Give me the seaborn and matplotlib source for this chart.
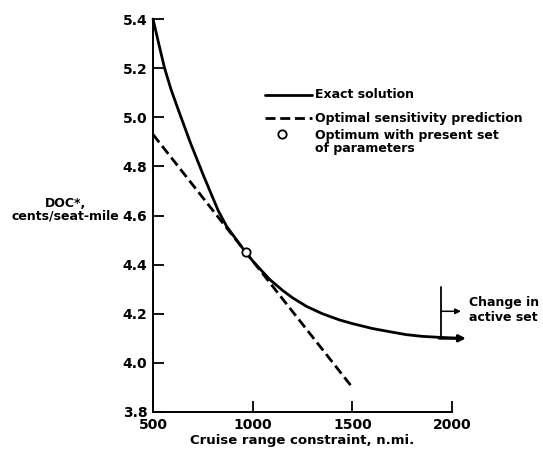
import matplotlib
matplotlib.use("Agg")
import matplotlib.pyplot as plt
import seaborn as sns
import pandas as pd

# values
range_exact = [500, 530, 558, 590, 627, 688, 752, 827, 870, 965, 1000, 1085, 1150, 1200,
               1270, 1350, 1435, 1500, 1600, 1700, 1770, 1850, 1935, 2040]
doc_exact = [5.40, 5.295, 5.20, 5.114, 5.03, 4.895, 4.765, 4.62, 4.555, 4.45, 4.415, 4.34,
             4.295, 4.265, 4.23, 4.20, 4.175, 4.16, 4.14, 4.125, 4.115, 4.108, 4.104, 4.10]

range_pred = [500, 1500]
doc_pred = [4.93, 3.90]

range_opt = [965]
doc_opt = [4.45]

arrow_tip_x = 2070
change_x = 1945
change_y_top = 4.31
change_y_arrow = 4.21
change_arrow_tip = 2045

x_ticks = [500, 1000, 1500, 2000]
y_ticks = [3.8, 4.0, 4.2, 4.4, 4.6, 4.8, 5.0, 5.2, 5.4]

legend_labels = ["Exact solution", "Optimal sensitivity prediction",
                 "Optimum with present set\nof parameters"]

sns.set_style("ticks")
plt.rcParams["font.family"] = ["DejaVu Sans"]
plt.rcParams["font.weight"] = "bold"
plt.rcParams["axes.labelweight"] = "bold"
for key in ["text.color", "axes.labelcolor", "xtick.color", "ytick.color"]:
    plt.rcParams[key] = "black"

fig = plt.figure(figsize=(5.43, 4.59), dpi=100)
ax = fig.add_axes([0.2818, 0.1024, 0.5506, 0.8562])

exact_df = pd.DataFrame({"range": range_exact, "doc": doc_exact})
pred_df = pd.DataFrame({"range": range_pred, "doc": doc_pred})
opt_df = pd.DataFrame({"range": range_opt, "doc": doc_opt})

dash = (0, (3.6, 1.7))
sns.lineplot(data=exact_df, x="range", y="doc", color="black", linewidth=2.0, ax=ax)
sns.lineplot(data=pred_df, x="range", y="doc", color="black", linewidth=2.0,
             linestyle=dash, ax=ax)
for ln in ax.lines:
    ln.set_clip_on(False)
sns.scatterplot(data=opt_df, x="range", y="doc", s=36, facecolor="white",
                edgecolor="black", linewidth=1.3, zorder=5, ax=ax)

# arrow head at end of exact solution
ax.annotate("", xy=(arrow_tip_x, doc_exact[-1]), xytext=(range_exact[-2], doc_exact[-1]),
            arrowprops=dict(arrowstyle="-|>", color="black", lw=2.0,
                            mutation_scale=10, shrinkA=0, shrinkB=0),
            annotation_clip=False)

# change in active set marker
ax.plot([change_x, change_x], [doc_exact[-1], change_y_top], color="black", lw=1.3, clip_on=False)
ax.annotate("", xy=(change_arrow_tip, change_y_arrow), xytext=(change_x, change_y_arrow),
            arrowprops=dict(arrowstyle="-|>", color="black", lw=1.1,
                            mutation_scale=8, shrinkA=0, shrinkB=0),
            annotation_clip=False)
ax.text(2085, 4.215, "Change in\nactive set", fontsize=9, fontweight="bold",
        ha="left", va="center", linespacing=1.2, clip_on=False)

ax.set_xlim(500, 2000)
ax.set_ylim(3.8, 5.4)
ax.set_xticks(x_ticks)
ax.set_yticks(y_ticks)
ax.set_yticklabels([f"{v:.1f}" for v in y_ticks])
ax.tick_params(direction="in", length=8, width=1.3, labelsize=10, pad=4)
for s in ["left", "bottom"]:
    ax.spines[s].set_linewidth(1.4)
    ax.spines[s].set_color("black")
sns.despine(ax=ax)

ax.set_xlabel("Cruise range constraint, n.mi.", fontsize=9.5, labelpad=2)
ax.set_ylabel("DOC*,\ncents/seat-mile", fontsize=9, rotation=0,
              ha="center", va="center", linespacing=1.0)
ax.yaxis.set_label_coords(-0.294, 0.514)

# hand-placed legend (axes fraction)
tr = ax.transAxes
ax.plot([0.375, 0.532], [0.807, 0.807], color="black", lw=2.0, transform=tr, clip_on=False)
ax.plot([0.375, 0.532], [0.748, 0.748], color="black", lw=2.0, linestyle=dash,
        transform=tr, clip_on=False)
ax.plot([0.431], [0.707], marker="o", markersize=6, markerfacecolor="white",
        markeredgecolor="black", markeredgewidth=1.3, lw=0, transform=tr, clip_on=False)
ax.text(0.542, 0.807, legend_labels[0], fontsize=9, va="center", transform=tr)
ax.text(0.542, 0.748, legend_labels[1], fontsize=9, va="center", transform=tr)
ax.text(0.542, 0.719, legend_labels[2], fontsize=9, va="top", linespacing=0.95,
        transform=tr)

fig.savefig("out.png", dpi=100)
